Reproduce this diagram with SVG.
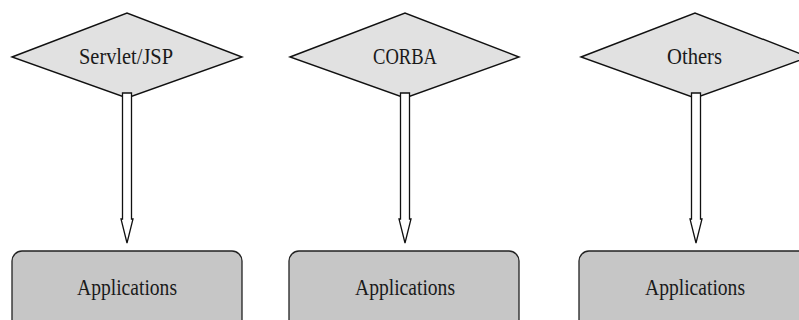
<svg xmlns="http://www.w3.org/2000/svg" width="799" height="320" viewBox="0 0 799 320">
  <style>
    .decision { fill: #e1e1e1; stroke: #111; stroke-width: 1.4; stroke-linejoin: miter; }
    .app { fill: #c6c6c6; stroke: #222; stroke-width: 1.3; }
    .flow { fill: #fff; stroke: #111; stroke-width: 1.3; stroke-linejoin: miter; }
    .label { font-family: "Liberation Serif", "DejaVu Serif", serif; font-size: 23px; fill: #1a1a1a; text-anchor: middle; }
  </style>
  <rect width="799" height="320" fill="#fff"/>

  <!-- application boxes -->
  <g id="app-servlet">
    <rect class="app" x="12" y="251" width="230" height="90" rx="10" ry="10"/>
    <text class="label" x="127" y="295" textLength="100" lengthAdjust="spacingAndGlyphs">Applications</text>
  </g>
  <g id="app-corba">
    <rect class="app" x="289" y="251" width="230" height="90" rx="10" ry="10"/>
    <text class="label" x="405" y="295" textLength="100" lengthAdjust="spacingAndGlyphs">Applications</text>
  </g>
  <g id="app-others">
    <rect class="app" x="579" y="251" width="230" height="90" rx="10" ry="10"/>
    <text class="label" x="695" y="295" textLength="100" lengthAdjust="spacingAndGlyphs">Applications</text>
  </g>

  <!-- technology diamonds -->
  <g id="tech-servlet">
    <polygon class="decision" points="12,57 127,13 242,57 127,98"/>
    <text class="label" x="126" y="64" textLength="94" lengthAdjust="spacingAndGlyphs">Servlet/JSP</text>
  </g>
  <g id="tech-corba">
    <polygon class="decision" points="290,57 405,13 519,57 405,98"/>
    <text class="label" x="405" y="64" textLength="64" lengthAdjust="spacingAndGlyphs">CORBA</text>
  </g>
  <g id="tech-others">
    <polygon class="decision" points="581,57 695,13 809,57 695,98"/>
    <text class="label" x="694.5" y="64" textLength="55" lengthAdjust="spacingAndGlyphs">Others</text>
  </g>

  <!-- hollow block arrows from each technology down to its applications -->
  <g id="connectors">
    <polygon class="flow" points="122.5,93 131.5,93 131.5,219 133,219 127,243 121,219 122.5,219"/>
    <polygon class="flow" points="400.5,93 409.5,93 409.5,219 411,219 405,243 399,219 400.5,219"/>
    <polygon class="flow" points="691.5,93 700.5,93 700.5,219 702,219 696,243 690,219 691.5,219"/>
  </g>
</svg>
